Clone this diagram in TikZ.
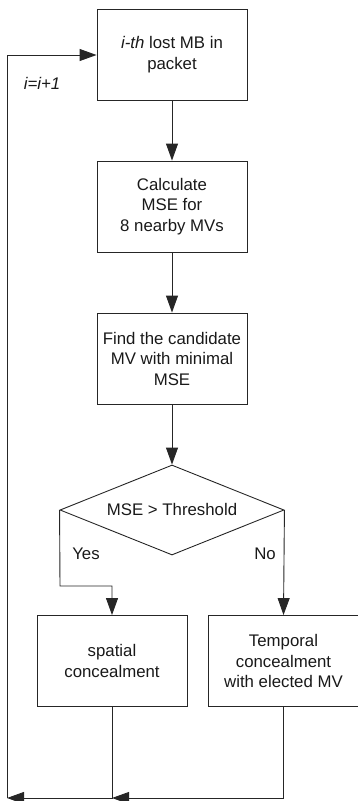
\documentclass[tikz,border=0pt]{standalone}
\usepackage{fontspec}
\setmainfont{Liberation Sans}
\usetikzlibrary{arrows.meta,shapes.geometric}
\begin{document}
\begin{tikzpicture}[x=1pt,y=-1pt,
  line width=0.9pt,
  box/.style={draw=black!85, line width=0.9pt, minimum width=150pt, minimum height=91pt, inner sep=0pt, align=center, font=\fontsize{16.8}{20.5}\selectfont, text=black!90},
  lab/.style={font=\fontsize{16.8}{20.5}\selectfont, inner sep=0pt, text=black!90},
  arr/.style={draw=black!85, -{Triangle[length=17pt,width=12pt]}},
  ln/.style={draw=black!85}]
\useasboundingbox (0,0) rectangle (358,801);
\node[box] (a) at (172,54.5) {\textit{i-th} lost MB in\\packet};
\node[box] (b) at (172,206.5) {Calculate\\MSE for\\8 nearby MVs};
\node[box] (c) at (172,358.5) {Find the candidate\\MV with minimal\\MSE};
\node[draw=black!85, line width=0.9pt, diamond, aspect=2.44, minimum width=224pt, minimum height=90pt, inner sep=0pt] (d) at (172,510) {};
\node[lab] at (172,509) {MSE > Threshold};
\node[box] (s) at (112,661) {spatial\\concealment};
\node[box] (t) at (283.5,661) {Temporal\\concealment\\with elected MV};
\coordinate (yl) at (60,586);
\coordinate (sb) at (112,798);
\coordinate (tb) at (283.5,798);
\coordinate (lb) at (7,798);
\coordinate (lt) at (7,55);
\draw[arr] (a.south) -- (b.north);
\draw[arr] (b.south) -- (c.north);
\draw[arr] (c.south) -- (d.north);
\draw[arr] (d.west) -- (yl) -| (s.north);
\draw[arr] (d.east) -- (t.north);
\draw[arr] (s.south) -- (sb) -- (lb);
\draw[arr] (t.south) -- (tb) -- (sb);
\draw[arr] (lb) -- (lt) -- (lt -| a.west);
\node[lab] at (42,83) {\textit{i=i+1}};
\node[lab] at (86,554) {Yes};
\node[lab] at (265,554) {No};
\end{tikzpicture}
\end{document}
